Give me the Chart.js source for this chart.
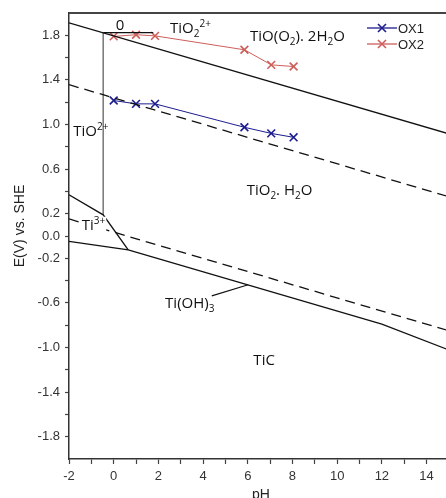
<!DOCTYPE html>
<html>
<head>
<meta charset="utf-8">
<script src="https://cdn.jsdelivr.net/npm/chart.js@4/dist/chart.umd.min.js"></script>
<style>
  html, body { margin: 0; padding: 0; background: #fff; overflow: hidden; }
  #wrap { position: relative; width: 446px; height: 498px; }
</style>
</head>
<body>
<div id="wrap"><canvas id="chart" width="446" height="498"></canvas></div>
<script>
// Measured series: pH vs potential E (V vs. SHE)
const ox1PH = [0, 1, 1.85, 5.85, 7.05, 8.05]
const ox1E = [1.215, 1.185, 1.185, 0.975, 0.92, 0.885]
const ox2PH = [0, 1, 1.85, 5.85, 7.05, 8.05]
const ox2E = [1.79, 1.805, 1.795, 1.67, 1.535, 1.52]

// Pourbaix boundary lines (pH, E)
const topSolidPH = [-2, 15]
const topSolidE = [1.911, 0.916]
const upperDashPH = [-2, 15]
const upperDashE = [1.357, 0.352]
const lowerDashPH = [-2, 15]
const lowerDashE = [0.153, -0.85]
const leftSolidPH = [-2, -0.47, 0.65]
const leftSolidE = [0.37, 0.19, -0.125]
const bottomSolidPH = [-2, 0.65, 12, 15]
const bottomSolidE = [-0.049, -0.125, -0.79, -1.022]
const verticalPH = [-0.47, -0.47]
const verticalE = [1.824, 0.19]
const shelfPH = [-0.47, 1.77]
const shelfE = [1.824, 1.824]
const leaderPH = [4.39, 6.02]
const leaderE = [-0.537, -0.438]

// Axis ticks
const xTickValues = [-2, -1, 0, 1, 2, 3, 4, 5, 6, 7, 8, 9, 10, 11, 12, 13, 14]
const xTickLabels = ["-2", "0", "2", "4", "6", "8", "10", "12", "14"]
const yTickValues = [-1.8, -1.6, -1.4, -1.2, -1.0, -0.8, -0.6, -0.4, -0.2, 0.0, 0.2, 0.4, 0.6, 0.8, 1.0, 1.2, 1.4, 1.6, 1.8]
const yTickLabels = ["1.8", "1.4", "1.0", "0.6", "0.2", "0.0", "-0.2", "-0.6", "-1.0", "-1.4", "-1.8"]

// Region labels: [text, style] parts, anchored in data space
const regionLabels = [
  { parts: [["0"]], ph: 0.28, e: 1.851, align: "center" },
  { parts: [["TiO"], ["2", "sub"], ["2+", "sup"]], ph: 2.52, e: 1.824 },
  { parts: [["TiO(O"], ["2", "sub"], ["). 2H"], ["2", "sub"], ["O"]], ph: 6.1, e: 1.748 },
  { parts: [["TiO"], ["2+", "sup"]], ph: -1.81, e: 0.895 },
  { parts: [["TiO"], ["2", "sub"], [". H"], ["2", "sub"], ["O"]], ph: 5.95, e: 0.37 },
  { parts: [["Ti"], ["3+", "sup"]], ph: -1.43, e: 0.056, bg: true },
  { parts: [["Ti(OH)"], ["3", "sub"]], ph: 2.3, e: -0.644 },
  { parts: [["TiC"]], ph: 6.25, e: -1.156 },
]

const seriesNames = ["OX1", "OX2"]
const seriesColors = ["#1c1c8f", "#cd5f5a"]

const pts = (xs, ys) => xs.map((x, i) => ({ x, y: ys[i] }))

function boundary(xs, ys, opts) {
  return Object.assign({
    data: pts(xs, ys),
    borderColor: "#111",
    borderWidth: 1.3,
    pointRadius: 0,
    fill: false,
    tension: 0,
  }, opts || {})
}

function series(i, xs, ys) {
  return {
    label: seriesNames[i],
    data: pts(xs, ys),
    borderColor: seriesColors[i],
    backgroundColor: seriesColors[i],
    borderWidth: 1,
    pointStyle: "crossRot",
    pointRadius: 5.5,
    pointBorderWidth: 1.6,
    pointBorderColor: seriesColors[i],
    fill: false,
    tension: 0,
  }
}

const BASE_FONT = "15px 'Open Sans'"
const SMALL_FONT = "10px 'Open Sans'"

function drawRich(ctx, parts, x, y, align) {
  let w = 0
  parts.forEach(([t, s]) => {
    ctx.font = s ? SMALL_FONT : BASE_FONT
    w += ctx.measureText(t).width
  })
  let cx = align === "center" ? x - w / 2 : x
  parts.forEach(([t, s]) => {
    ctx.font = s ? SMALL_FONT : BASE_FONT
    const dy = s === "sub" ? 4 : s === "sup" ? -6 : 0
    ctx.fillText(t, cx, y + dy)
    cx += ctx.measureText(t).width
  })
  return w
}

const decorPlugin = {
  id: "decor",
  afterDatasetsDraw(chart) {
    const ctx = chart.ctx
    const xs = chart.scales.x
    const ys = chart.scales.y
    const area = chart.chartArea
    ctx.save()

    // top frame line
    ctx.strokeStyle = "#444"
    ctx.lineWidth = 2
    ctx.beginPath()
    ctx.moveTo(area.left, area.top)
    ctx.lineTo(area.right, area.top)
    ctx.stroke()

    // region labels
    ctx.fillStyle = "#111"
    ctx.textBaseline = "alphabetic"
    ctx.textAlign = "left"
    regionLabels.forEach((lb) => {
      const px = xs.getPixelForValue(lb.ph)
      const py = ys.getPixelForValue(lb.e)
      if (lb.bg) {
        let w = 0
        lb.parts.forEach(([t, s]) => {
          ctx.font = s ? SMALL_FONT : BASE_FONT
          w += ctx.measureText(t).width
        })
        ctx.fillStyle = "#fff"
        ctx.fillRect(px - 1, py - 13, w + 2, 16)
        ctx.fillStyle = "#111"
      }
      drawRich(ctx, lb.parts, px, py, lb.align)
    })

    // legend
    ctx.font = "13px 'Liberation Sans', Arial, sans-serif"
    seriesNames.forEach((name, i) => {
      const ly = 28 + i * 16
      ctx.strokeStyle = seriesColors[i]
      ctx.lineWidth = 1.3
      ctx.beginPath()
      ctx.moveTo(367, ly)
      ctx.lineTo(397, ly)
      ctx.stroke()
      ctx.lineWidth = 1.6
      ctx.beginPath()
      ctx.moveTo(382 - 4, ly - 4)
      ctx.lineTo(382 + 4, ly + 4)
      ctx.moveTo(382 - 4, ly + 4)
      ctx.lineTo(382 + 4, ly - 4)
      ctx.stroke()
      ctx.fillStyle = "#222"
      ctx.fillText(name, 398, ly + 5)
    })

    // axis titles
    ctx.fillStyle = "#222"
    ctx.font = "14px 'Liberation Sans', Arial, sans-serif"
    ctx.textAlign = "center"
    ctx.fillText("pH", 261, 499)
    ctx.translate(24, 226)
    ctx.rotate(-Math.PI / 2)
    ctx.fillText("E(V) vs. SHE", 0, 0)
    ctx.restore()
  },
}

new Chart(document.getElementById("chart"), {
  type: "line",
  data: {
    datasets: [
      boundary(topSolidPH, topSolidE),
      boundary(upperDashPH, upperDashE, { borderDash: [10, 6] }),
      boundary(lowerDashPH, lowerDashE, { borderDash: [10, 6] }),
      boundary(leftSolidPH, leftSolidE),
      boundary(bottomSolidPH, bottomSolidE),
      boundary(verticalPH, verticalE, { borderColor: "#777", borderWidth: 1.5 }),
      boundary(shelfPH, shelfE),
      boundary(leaderPH, leaderE, { borderWidth: 1.1 }),
      series(0, ox1PH, ox1E),
      series(1, ox2PH, ox2E),
    ],
  },
  options: {
    responsive: false,
    animation: false,
    layout: { autoPadding: false, padding: { top: 13, right: 0, bottom: 0, left: 0 } },
    plugins: { legend: { display: false }, tooltip: { enabled: false } },
    scales: {
      x: {
        type: "linear",
        min: -2,
        max: 14.87,
        afterFit: (s) => { s.height = 39 },
        afterBuildTicks: (s) => { s.ticks = xTickValues.map((v) => ({ value: v })) },
        grid: { drawOnChartArea: false, tickLength: 5, tickColor: "#444", tickWidth: 1.2 },
        border: { color: "#333", width: 1.5 },
        ticks: {
          autoSkip: false,
          maxRotation: 0,
          padding: 5,
          color: "#333",
          font: { family: "'Liberation Sans', Arial, sans-serif", size: 13 },
          callback: (v) => (xTickLabels.includes(String(v)) ? String(v) : ""),
        },
      },
      y: {
        type: "linear",
        min: -2,
        max: 2,
        afterFit: (s) => { s.width = 69 },
        afterBuildTicks: (s) => { s.ticks = yTickValues.map((v) => ({ value: v })) },
        grid: { drawOnChartArea: false, tickLength: 4, tickColor: "#444", tickWidth: 1.2 },
        border: { color: "#333", width: 1.5 },
        ticks: {
          autoSkip: false,
          padding: 5,
          color: "#333",
          font: { family: "'Liberation Sans', Arial, sans-serif", size: 13 },
          callback: (v) => {
            const t = Number(v).toFixed(1)
            return yTickLabels.includes(t) ? t : ""
          },
        },
      },
    },
  },
  plugins: [decorPlugin],
})
</script>
</body>
</html>
